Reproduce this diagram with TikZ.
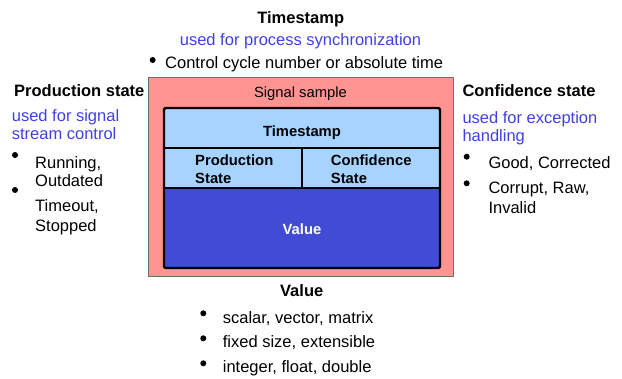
\documentclass[tikz,border=0pt]{standalone}
\usepackage{fontspec}
\setmainfont{Liberation Sans}
\definecolor{samplefill}{RGB}{255,148,145}
\definecolor{sampleedge}{RGB}{110,110,110}
\definecolor{celllight}{RGB}{166,211,255}
\definecolor{celldark}{RGB}{66,75,212}
\definecolor{noteblue}{RGB}{64,64,224}
\tikzset{
  txt/.style={inner sep=0pt, anchor=base west, font=\fontsize{16.5}{19}\selectfont},
  txtc/.style={txt, anchor=base},
  head/.style={txt, font=\fontsize{16.5}{19}\selectfont\bfseries},
  headc/.style={head, anchor=base},
  note/.style={txt, text=noteblue},
  notec/.style={note, anchor=base},
  celltxt/.style={inner sep=0pt, anchor=base west, font=\fontsize{14.8}{17.8}\selectfont\bfseries},
  celltxtc/.style={celltxt, anchor=base},
  bullet/.style={fill=black},
}
\begin{document}
\begin{tikzpicture}[x=1pt,y=-1pt]
\useasboundingbox (0,0) rectangle (622,379);

% signal sample container
\fill[samplefill] (148,78) rectangle (453,277);
\draw[sampleedge, line width=1pt] (148,78) rectangle (453,277);
\node[txtc, font=\fontsize{14.8}{17.8}\selectfont] (sig) at (300.5,98) {Signal sample};

% record fields
\fill[celllight, rounded corners=2pt] (164,108) rectangle (440,188);
\fill[celldark] (164,188) rectangle (440,268);
\draw[line width=2.4pt, rounded corners=2pt] (164,108) rectangle (440,268);
\draw[line width=2.4pt] (164,148) -- (440,148);
\draw[line width=2.4pt] (164,188) -- (440,188);
\draw[line width=2.4pt] (302,148) -- (302,188);

\node[celltxtc] (fts) at (302,136.5) {Timestamp};
\node[celltxt] (fps1) at (195,165.5) {Production};
\node[celltxt] (fps2) at (195,183.3) {State};
\node[celltxt] (fcs1) at (330.7,165.5) {Confidence};
\node[celltxt] (fcs2) at (330.7,183.3) {State};
\node[celltxtc, text=white] (fval) at (302,235) {Value};

% timestamp notes
\node[headc] (tshead) at (300.7,23.5) {Timestamp};
\node[notec] (tsuse) at (300.5,46) {used for process synchronization};
\fill[bullet] (152.7,60) circle (3);
\node[txt] (ts1) at (165,69) {Control cycle number or absolute time};

% production state notes
\node[head] (pshead) at (14,96.7) {Production state};
\node[note] (psuse1) at (11.7,121.7) {used for signal};
\node[note] (psuse2) at (11.7,140) {stream control};
\fill[bullet] (15,155) circle (3);
\node[txt] (ps1a) at (35,168.3) {Running,};
\node[txt] (ps1b) at (35,187) {Outdated};
\fill[bullet] (15,190) circle (3);
\node[txt] (ps2a) at (35,212) {Timeout,};
\node[txt] (ps2b) at (35,231.5) {Stopped};

% confidence state notes
\node[head] (cshead) at (462.3,96.7) {Confidence state};
\node[note] (csuse1) at (462.3,123.3) {used for exception};
\node[note] (csuse2) at (462.3,141.5) {handling};
\fill[bullet] (466.7,156.7) circle (3);
\node[txt] (cs1) at (488.3,168.3) {Good, Corrected};
\fill[bullet] (466.7,183.3) circle (3);
\node[txt] (cs2a) at (488.3,193.3) {Corrupt, Raw,};
\node[txt] (cs2b) at (488.3,213.3) {Invalid};

% value notes
\node[headc] (vhead) at (301.7,296.7) {Value};
\fill[bullet] (203.3,313.3) circle (3);
\node[txt] (v1) at (222.7,323.3) {scalar, vector, matrix};
\fill[bullet] (203.3,338.3) circle (3);
\node[txt] (v2) at (222.7,347.7) {fixed size, extensible};
\fill[bullet] (203.3,363.3) circle (3);
\node[txt] (v3) at (222.7,372.7) {integer, float, double};
\end{tikzpicture}
\end{document}
